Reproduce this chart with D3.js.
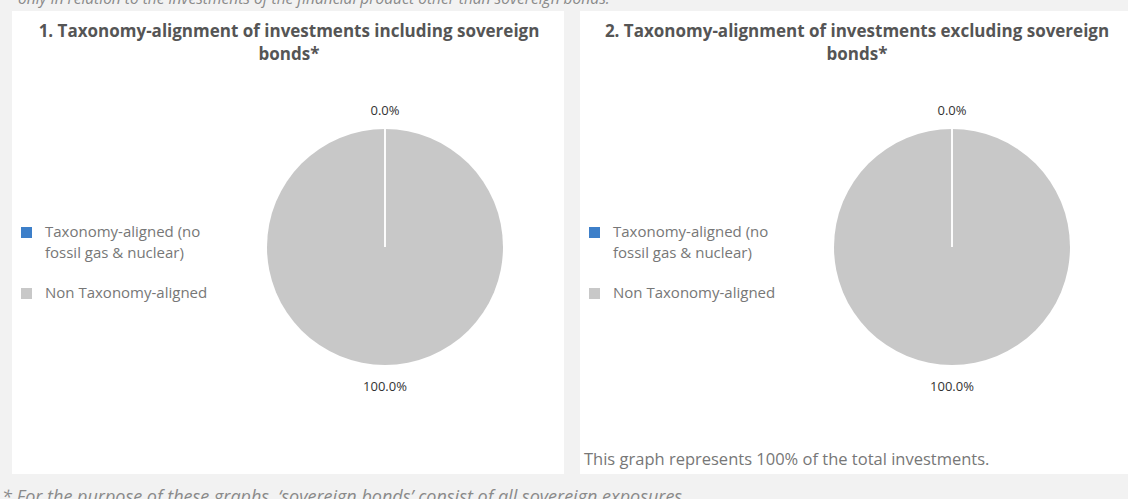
<!DOCTYPE html>
<html>
<head>
<meta charset="utf-8">
<style>
body, html {
	margin: 0;
	width: 1128px;
	height: 499px;
	background: #f2f2f2;
	overflow: hidden;
}
</style>
</head>
<body>
<div id="chartContainer"></div>
<script src="https://cdn.jsdelivr.net/npm/d3@7"></script>
<script>

const categories = ["Taxonomy-aligned (no fossil gas & nuclear)", "Non Taxonomy-aligned"];
const legendLines = [["Taxonomy-aligned (no", "fossil gas & nuclear)"], ["Non Taxonomy-aligned"]];
const includingValues = [0.0, 100.0];
const excludingValues = [0.0, 100.0];
const panelTitles = [
	["1. Taxonomy-alignment of investments including sovereign", "bonds*"],
	["2. Taxonomy-alignment of investments excluding sovereign", "bonds*"]
];

const WIDTH = 1128;
const HEIGHT = 499;
const PIE_RADIUS = 118;
const LABEL_RADIUS = 138;
const TITLE_FONT = "'Open Sans', 'DejaVu Sans', sans-serif";
const BODY_FONT = "'Open Sans', 'DejaVu Sans', sans-serif";

const color = d3.scaleOrdinal()
	.domain(categories)
	.range(["#3d7fc9", "#c8c8c8"]);

var svg = d3.select("#chartContainer").append("svg")
	.attr("width", WIDTH)
	.attr("height", HEIGHT);

// cut off intro line above the panels
svg.append("text")
	.attr("x", 18)
	.attr("y", 4)
	.attr("font-family", BODY_FONT)
	.attr("font-style", "italic")
	.attr("font-size", "15.5px")
	.attr("fill", "#8a8a8a")
	.text("only in relation to the investments of the financial product other than sovereign bonds.");

var panels = [
	{x: 12, w: 552, title: panelTitles[0], values: includingValues, cx: 385},
	{x: 580, w: 548, title: panelTitles[1], values: excludingValues, cx: 952, note: "This graph represents 100% of the total investments."}
];

var pie = d3.pie().sort(null).value((d) => d.value);
var arc = d3.arc().innerRadius(0).outerRadius(PIE_RADIUS);
var labelArc = d3.arc().innerRadius(LABEL_RADIUS).outerRadius(LABEL_RADIUS);

panels.forEach(function(p) {
	var g = svg.append("g").attr("transform", `translate(${p.x},0)`);

	g.append("rect")
		.attr("x", 0)
		.attr("y", 11)
		.attr("width", p.w)
		.attr("height", 463)
		.attr("fill", "#fff");

	var title = g.append("text")
		.attr("font-family", TITLE_FONT)
		.attr("font-weight", "bold")
		.attr("font-size", "17px")
		.attr("fill", "#555")
		.attr("text-anchor", "middle");
	p.title.forEach(function(line, i) {
		title.append("tspan")
			.attr("x", 277)
			.attr("y", 37 + i * 23)
			.text(line);
	});

	// legend
	var legend = g.append("g").attr("class", "legend");
	var ly = [237, 298];
	categories.forEach(function(c, i) {
		legend.append("rect")
			.attr("x", 9)
			.attr("y", ly[i] - 10)
			.attr("width", 11)
			.attr("height", 11)
			.attr("fill", color(c));
		var t = legend.append("text")
			.attr("font-family", BODY_FONT)
			.attr("font-size", "15px")
			.attr("fill", "#777");
		legendLines[i].forEach(function(line, j) {
			t.append("tspan")
				.attr("x", 33)
				.attr("y", ly[i] + j * 21)
				.text(line);
		});
	});

	var data = categories.map((c, i) => ({name: c, value: p.values[i]}));
	var arcs = pie(data);
	var pg = svg.append("g").attr("transform", `translate(${p.cx},247)`);

	pg.selectAll("path")
		.data(arcs)
		.enter().append("path")
			.attr("d", arc)
			.attr("fill", (d) => color(d.data.name));

	// white slice borders
	pg.selectAll("line")
		.data(arcs)
		.enter().append("line")
			.attr("x1", 0)
			.attr("y1", 0)
			.attr("x2", (d) => d3.pointRadial(d.startAngle, PIE_RADIUS)[0])
			.attr("y2", (d) => d3.pointRadial(d.startAngle, PIE_RADIUS)[1])
			.attr("stroke", "#fff")
			.attr("stroke-width", 1.5);

	pg.selectAll("text")
		.data(arcs)
		.enter().append("text")
			.attr("transform", (d) => `translate(${labelArc.centroid(d)})`)
			.attr("dy", "0.45em")
			.attr("text-anchor", "middle")
			.attr("font-family", BODY_FONT)
			.attr("font-size", "13px")
			.attr("fill", "#333")
			.text((d) => d3.format(".1f")(d.data.value) + "%");

	if (p.note) {
		g.append("text")
			.attr("x", 4)
			.attr("y", 465)
			.attr("font-family", BODY_FONT)
			.attr("font-size", "16.5px")
			.attr("fill", "#777")
			.text(p.note);
	}
});

// footnote, cut off at the bottom
svg.append("text")
	.attr("x", 2)
	.attr("y", 503)
	.attr("font-family", BODY_FONT)
	.attr("font-style", "italic")
	.attr("font-size", "18px")
	.attr("fill", "#8a8a8a")
	.text("* For the purpose of these graphs, ‘sovereign bonds’ consist of all sovereign exposures");

</script>
</body>
</html>
